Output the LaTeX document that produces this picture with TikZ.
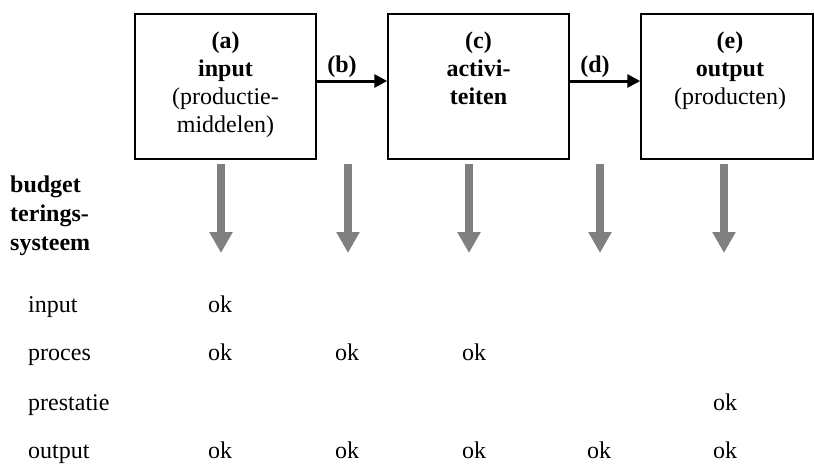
\documentclass[tikz,border=0pt]{standalone}
\usepackage{fontspec}
\setmainfont{Liberation Serif}
\usetikzlibrary{positioning}
\usetikzlibrary{arrows.meta}

\tikzset{
  box/.style={draw, line width=1.5pt, minimum height=145pt, inner sep=0pt},
  boxtext/.style={anchor=north, inner sep=0pt, align=center, font=\fontsize{24}{28}\selectfont},
  txt/.style={anchor=base, inner sep=0pt, font=\fontsize{24}{28}\selectfont},
  flow/.style={line width=3pt, -{Triangle[width=13pt,length=13pt]}},
  down/.style={gray, line width=8pt, -{Triangle[width=22pt,length=21pt]}}
}

\begin{document}
\begin{tikzpicture}[x=1pt,y=-1pt]

\useasboundingbox (0,0) rectangle (814,464);

% boxes
\node[box, minimum width=181pt] (a) at (225.5,86.5) {};
\node[box, minimum width=181pt] (c) at (478.5,86.5) {};
\node[box, minimum width=172pt] (e) at (727,86.5) {};

\node[boxtext] (ta) at (225.5,31.5) {\textbf{(a)}\\\textbf{input}\\(productie-\\middelen)};
\node[boxtext] (tc) at (478.5,31.5) {\textbf{(c)}\\\textbf{activi-}\\\textbf{teiten}};
\node[boxtext] (te) at (730,31.5) {\textbf{(e)}\\\textbf{output}\\(producten)};

\draw[flow] ([yshift=5.5pt]a.east) -- ([yshift=5.5pt]c.west);
\draw[flow] ([yshift=5.5pt]c.east) -- ([yshift=5.5pt]e.west);

\node[txt] (lb) at (342,72) {\textbf{(b)}};
\node[txt] (ld) at (595,72) {\textbf{(d)}};

% grey arrows
\foreach \x [count=\i] in {221,348,469,600,724}{
  \coordinate (top\i) at (\x,164);
  \coordinate (tip\i) at (\x,253);
  \draw[down] (top\i) -- (tip\i);
}

% nodes
\node[anchor=north west, inner sep=0pt, align=left, font=\fontsize{24}{29}\selectfont\bfseries] (sys) at (10,175.5) {budget\\terings-\\systeem};

\foreach \name/\y in {input/312, proces/360, prestatie/410, output/458}
  \node[txt, anchor=base west] (r-\name) at (28,\y) {\name};

\foreach \x/\y [count=\i] in {220/312, 220/360, 347/360, 474/360, 725/410,
                              220/458, 347/458, 474/458, 599/458, 725/458}
  \node[txt] (ok\i) at (\x,\y) {ok};

\end{tikzpicture}
\end{document}
